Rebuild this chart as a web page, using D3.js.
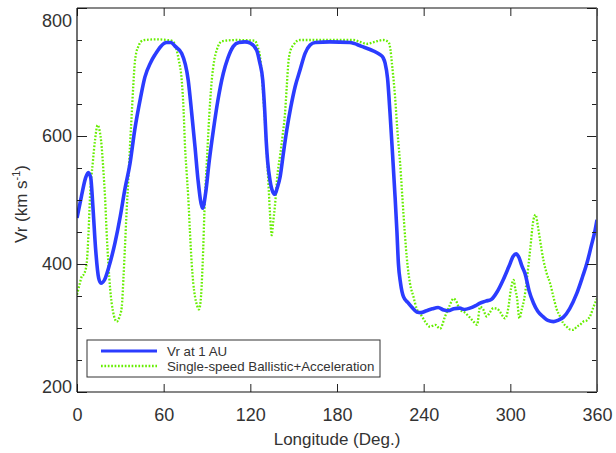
<!DOCTYPE html>
<html><head><meta charset="utf-8">
<script src="https://cdn.jsdelivr.net/npm/d3@7"></script>
<style>
html,body{margin:0;padding:0;background:#fff;}
svg{display:block;font-family:"Liberation Sans",Arial,Helvetica,sans-serif;}
</style></head>
<body>
<svg id="chart" width="616" height="453"></svg>
<script>
// ---- data ----
const blueLon = [0,3,6,7.8,9.5,11,13,15,16.6,19,22,26.3,30,33,36.7,40,44,47,51,54,58,62,65,68,72.5,77,79.4,81.7,83.8,87,89,91.5,94.4,97.5,101.3,104.5,108.2,112,116.3,120,124.4,126.5,128.6,130,131,132,133.6,135.5,137,138.5,140.6,143,145.2,148,151,154.4,157.9,161.3,165,175,189,197,205,209.8,212,213.3,215,216.7,218.5,220.2,221.5,222.5,224,226,229,232,235.2,238,242,246,250,254,257,261,265,268,272,276,279,283,287,291,295,299,302,304,306,308,310.2,313,316,319,323,326,329.9,333,336.8,341,346,350,353,356,358.7,360];
const blueV   = [472,505,535,543,535,490,420,378,370,375,395,433,475,515,557,610,660,692,715,727,740,746,746,740,729,687,636,583,531,487,510,560,609,655,698,722,740,746,747,745,734,715,687,638,592,560,531,513,509,518,536,575,609,645,677,703,729,742,746,747,746,740,733,727,722,714,690,636,570,505,450,401,370,349,340,332,325,324,327,330,332,328,327,330,331,329,331,335,339,342,345,357,375,396,412,416,410,397,385,358,339,326,317,312,310,312,317,330,354,380,401,428,453,469];
const greenLon = [0,2,3.2,5,6.7,8,9,11,12.5,14.3,15.5,17.1,18.3,19.4,20.5,21.7,23,24,25.5,27.5,29.5,31,32.2,33.2,34.3,35.5,36.7,37.9,39,40,41.2,42.5,44,47,55,65.5,67.5,69,70.5,72.5,73.8,74.8,76,77,78.2,79.4,80.5,81.7,83,84.4,85.5,87,88.6,90,91,92.2,93.3,95,96.7,98.5,100.2,110,123,125,126.7,128,129,130.5,131.8,133,133.6,134.8,135.8,137,138.9,140.5,142.3,144,145.3,146.3,148,149.8,152,154.4,191.3,196,200.6,206,212,215.6,217,218,220.2,221.8,223.7,226,228.3,230.5,232.9,235.2,237.5,241,244.4,248,251.4,254.8,258,260.6,262.5,265.2,268,270.5,274.5,277,279,281,283.6,286,288.3,291,292.9,296.4,298.5,300.5,302.2,303.5,304.5,306.3,308,309.5,311.4,313.7,316,317.5,319,320.6,323,325.2,327.5,329.8,332,334.4,336.5,339,341,343.7,346,348.3,350.5,353,355.5,357.6,360];
const greenV   = [352,370,380,385,401,450,505,560,594,617,610,583,545,505,450,401,360,339,320,310,318,333,380,427,480,531,585,635,680,714,732,740,747,750,751,749,744,734,718,687,640,583,540,505,450,401,370,349,336,329,340,401,505,565,609,655,687,718,734,744,748,750,749,740,724,695,661,610,557,505,479,445,465,490,542,568,600,635,680,714,735,742,748,750,750,747,744,747,750,747,735,714,661,609,557,479,410,370,349,330,323,310,302,305,299,318,335,346,342,328,325,320,310,305,333,330,318,325,331,330,325,315,330,362,375,360,349,315,330,344,375,422,469,477,460,437,405,385,370,349,330,318,308,302,298,297,302,305,310,312,320,333,346];
const xTicks = [0,60,120,180,240,300,360];
const yMajor = [200,400,600,800];
const yMinor = [250,300,350,450,500,550,650,700,750];
const seriesNames = ["Vr at 1 AU","Single-speed Ballistic+Acceleration"];
const seriesColors = ["#2b3cff","#66ee00"];

// ---- layout ----
const L=77, R=597, T=8, B=392;
const svg = d3.select("#chart");
const x = d3.scaleLinear().domain([0,360]).range([L,R]);
const y = d3.scaleLinear().domain([200,800]).range([B,T]);
const textCol = "#333";

// ---- lines ----
const line = d3.line().x(d=>x(d[0])).y(d=>y(d[1])).curve(d3.curveMonotoneX);
const gData = greenLon.map((v,i)=>[v,greenV[i]]);
const bData = blueLon.map((v,i)=>[v,blueV[i]]);
svg.append("defs").append("clipPath").attr("id","clip").append("rect")
  .attr("x",L).attr("y",T).attr("width",R-L).attr("height",B-T);
const plot = svg.append("g").attr("clip-path","url(#clip)");
plot.append("path").datum(gData).attr("d",line).attr("fill","none")
  .attr("stroke",seriesColors[1]).attr("stroke-width",2.3).attr("stroke-dasharray","1.7,1.7");
plot.append("path").datum(bData).attr("d",line).attr("fill","none")
  .attr("stroke",seriesColors[0]).attr("stroke-width",3.6).attr("stroke-linejoin","round");

// ---- axes ----
function styleAxis(g){ g.select(".domain").remove(); g.selectAll("line").attr("stroke","#222"); g.selectAll("text").attr("fill",textCol).style("font-size","18px").style("font-family","'Liberation Sans',Arial,sans-serif"); }
svg.append("g").attr("transform",`translate(${L},0)`)
  .call(d3.axisLeft(y).tickValues(yMajor).tickSize(-10).tickSizeOuter(0).tickPadding(5).tickFormat(d3.format("d"))).call(styleAxis)
  .selectAll(".tick text").attr("dy",d=> d===800 ? "1.0em" : d===200 ? "-0.0em" : "0.32em");
svg.append("g").attr("transform",`translate(${L},0)`)
  .call(d3.axisLeft(y).tickValues(yMinor).tickSize(-5).tickSizeOuter(0).tickFormat("")).call(styleAxis);
svg.append("g").attr("transform",`translate(${R},0)`)
  .call(d3.axisRight(y).tickValues(yMajor).tickSize(-10).tickSizeOuter(0).tickFormat("")).call(styleAxis);
svg.append("g").attr("transform",`translate(${R},0)`)
  .call(d3.axisRight(y).tickValues(yMinor).tickSize(-5).tickSizeOuter(0).tickFormat("")).call(styleAxis);
svg.append("g").attr("transform",`translate(0,${B})`)
  .call(d3.axisBottom(x).tickValues(xTicks).tickSize(-8).tickSizeOuter(0).tickPadding(16).tickFormat(d3.format("d"))).call(styleAxis);
svg.append("g").attr("transform",`translate(0,${T})`)
  .call(d3.axisTop(x).tickValues(xTicks).tickSize(-8).tickSizeOuter(0).tickFormat("")).call(styleAxis);

// frame
svg.append("line").attr("x1",L).attr("x2",L).attr("y1",T).attr("y2",B).attr("stroke","#111").attr("stroke-width",1.2);
svg.append("line").attr("x1",L).attr("x2",R).attr("y1",T).attr("y2",T).attr("stroke","#111").attr("stroke-width",1.2);
svg.append("line").attr("x1",L).attr("x2",R).attr("y1",B).attr("y2",B).attr("stroke","#111").attr("stroke-width",1.2);
svg.append("line").attr("x1",R).attr("x2",R).attr("y1",T).attr("y2",B).attr("stroke","#555").attr("stroke-width",1.8);

// axis titles
svg.append("text").attr("x",(L+R)/2).attr("y",445).attr("text-anchor","middle")
  .attr("fill",textCol).style("font-size","17px").text("Longitude (Deg.)");
const yt = svg.append("text").attr("transform","translate(27,204) rotate(-90)").attr("text-anchor","middle")
  .attr("fill",textCol).style("font-size","17px");
yt.append("tspan").text("Vr (km s");
yt.append("tspan").attr("dy",-7).style("font-size","11px").text("-1");
yt.append("tspan").attr("dy",7).text(")");

// legend
const lg = svg.append("g");
lg.append("rect").attr("x",87).attr("y",340).attr("width",293).attr("height",37)
  .attr("fill","#fff").attr("stroke","#333").attr("stroke-width",1);
const rows=[351,366];
seriesNames.forEach((n,i)=>{
  lg.append("line").attr("x1",101).attr("x2",157).attr("y1",rows[i]).attr("y2",rows[i])
    .attr("stroke",seriesColors[i]).attr("stroke-width",i===0?3:2.3)
    .attr("stroke-dasharray",i===0?null:"1.7,1.7");
  lg.append("text").attr("x",167).attr("y",rows[i]+5).attr("fill",textCol)
    .style("font-size","13.3px").text(n);
});
</script>
</body></html>
